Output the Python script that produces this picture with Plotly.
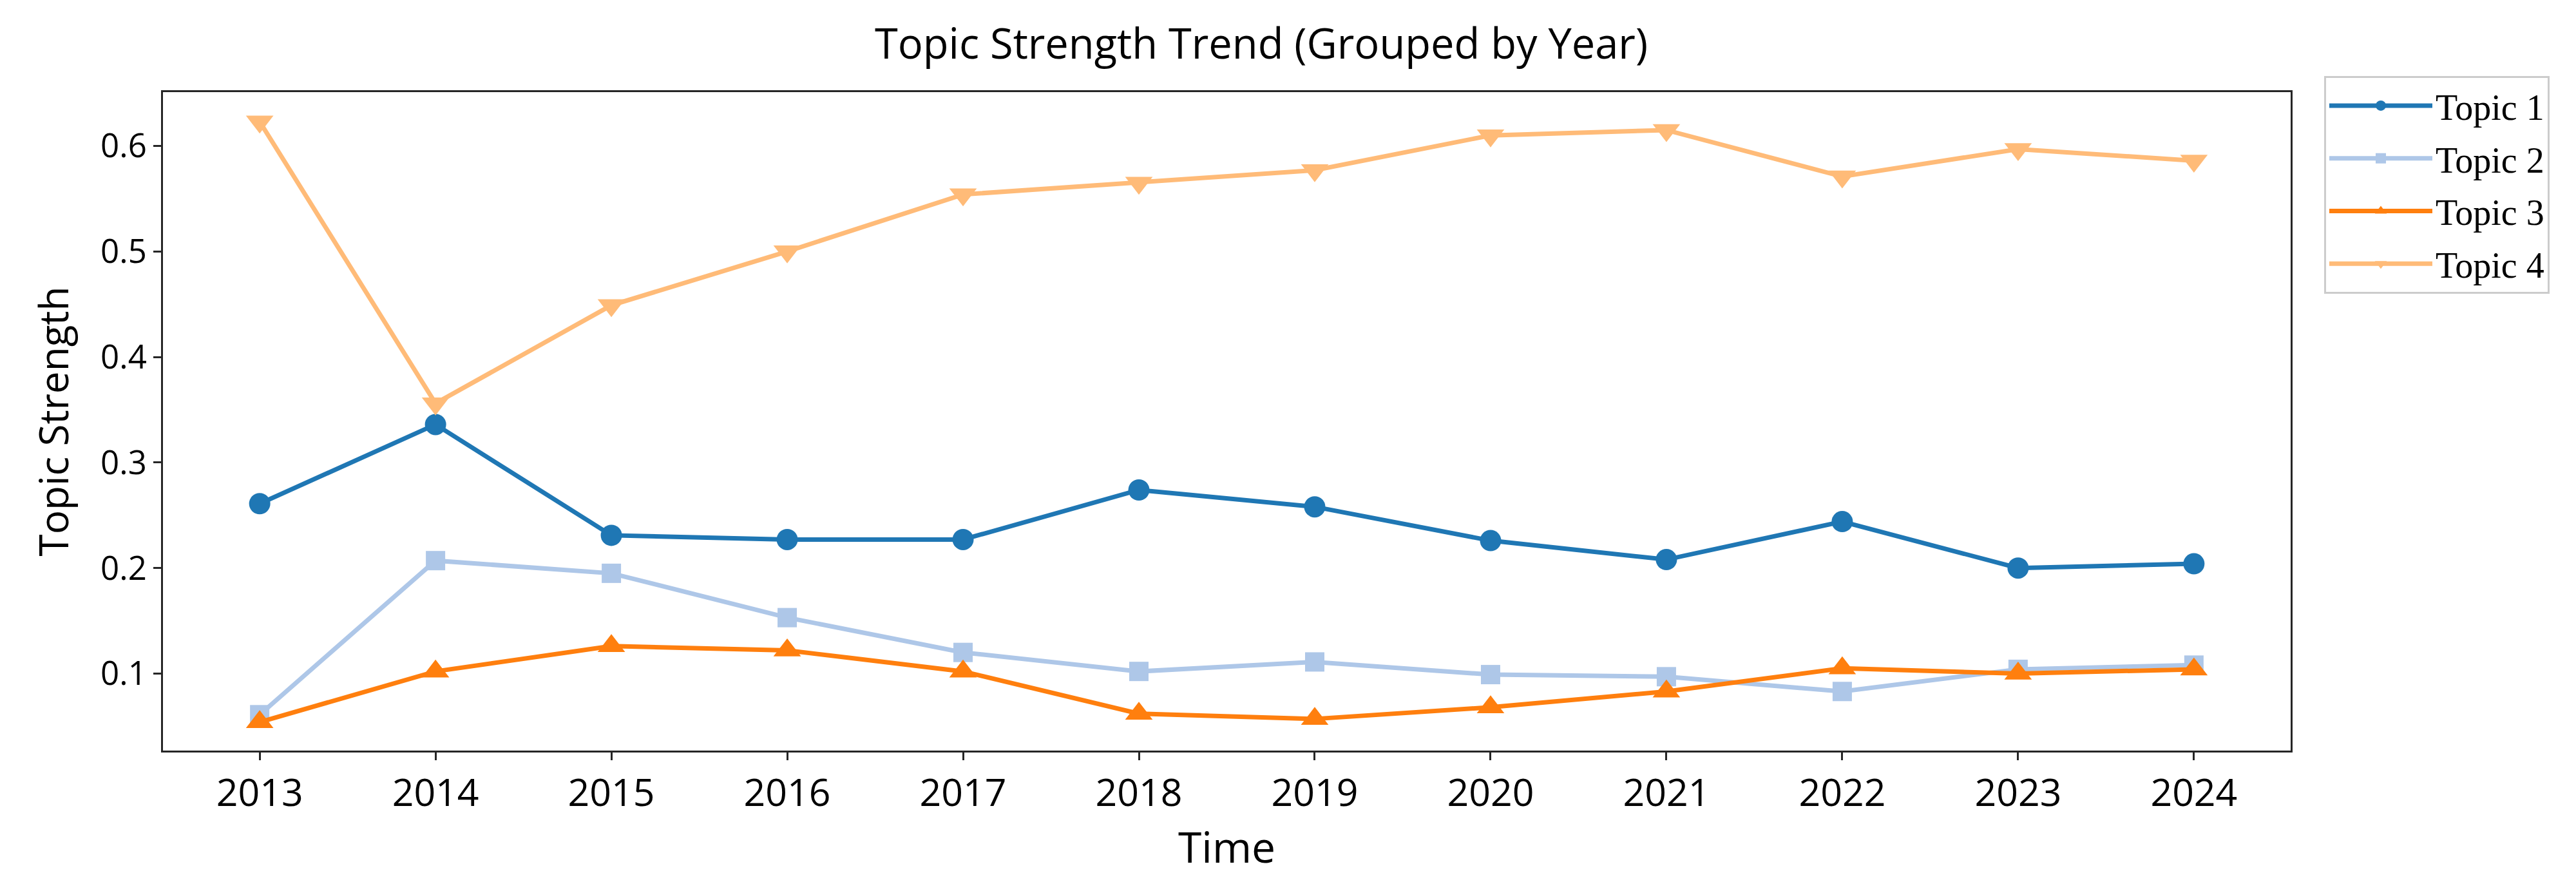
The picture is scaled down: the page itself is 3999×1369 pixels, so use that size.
import plotly.graph_objects as go

years = [2013, 2014, 2015, 2016, 2017, 2018, 2019, 2020, 2021, 2022, 2023, 2024]
topic1 = [0.261, 0.336, 0.231, 0.227, 0.227, 0.274, 0.258, 0.226, 0.208, 0.244, 0.200, 0.204]
topic2 = [0.061, 0.207, 0.195, 0.153, 0.120, 0.102, 0.111, 0.099, 0.097, 0.083, 0.104, 0.108]
topic3 = [0.054, 0.102, 0.126, 0.122, 0.102, 0.062, 0.057, 0.068, 0.083, 0.105, 0.100, 0.104]
topic4 = [0.623, 0.356, 0.449, 0.500, 0.554, 0.565, 0.577, 0.610, 0.615, 0.571, 0.597, 0.586]

names = ["Topic 1", "Topic 2", "Topic 3", "Topic 4"]
series = [topic1, topic2, topic3, topic4]
colors = ["#1f77b4", "#aec7e8", "#ff7f0e", "#ffbb78"]
symbols = ["circle", "square", "triangle-up", "triangle-down"]
sizes = [33, 30, 37, 37]

y_ticks = [0.1, 0.2, 0.3, 0.4, 0.5, 0.6]

W, H = 3999, 1369
L, R, T, B = 245, 3548, 135, 1157

fig = go.Figure()
for name, vals, col, sym, sz in zip(names, series, colors, symbols, sizes):
    fig.add_trace(go.Scatter(
        x=years, y=vals, name=name, mode="lines+markers",
        legendgroup=name,
        line=dict(color=col, width=7),
        marker=dict(color=col, symbol=sym, size=sz, line=dict(width=0)),
    ))

axis_common = dict(
    showline=True, mirror=True, linecolor="#262626", linewidth=3,
    showgrid=False, zeroline=False,
    ticks="outside", ticklen=12, tickwidth=3, tickcolor="#262626",
)

fig.update_layout(
    width=W, height=H,
    autosize=False,
    paper_bgcolor="white", plot_bgcolor="white",
    margin=dict(l=L, r=W - R, t=T, b=H - B, pad=0),
    title=dict(
        text="Topic Strength Trend (Grouped by Year)",
        x=1950 / W, xref="container", xanchor="center",
        y=1 - 60 / H, yref="container", yanchor="middle",
        font=dict(family="Open Sans", size=65, color="black"),
    ),
    xaxis=dict(
        **axis_common,
        range=[2012.45, 2024.55],
        tickmode="array", tickvals=years, ticktext=[str(y) for y in years],
        tickfont=dict(family="Open Sans", size=59, color="black"),
        title=dict(text="Time", font=dict(family="Open Sans", size=66, color="black"), standoff=20),
    ),
    yaxis=dict(
        **axis_common,
        range=[0.027, 0.651],
        tickmode="array", tickvals=y_ticks, ticktext=[f"{v:.1f}" for v in y_ticks],
        tickfont=dict(family="Open Sans", size=51, color="black"),
        title=dict(text="Topic Strength", font=dict(family="Open Sans", size=62, color="black"), standoff=30),
    ),
    legend=dict(
        x=(3600 - L) / (R - L), y=(B - 110) / (B - T),
        xanchor="left", yanchor="top",
        font=dict(family="Liberation Serif", size=56, color="black"),
        bordercolor="#cccccc", borderwidth=3, bgcolor="white",
        itemwidth=160,
        traceorder="grouped", tracegroupgap=6,
    ),
    showlegend=True,
)

fig.write_html("out.html")
